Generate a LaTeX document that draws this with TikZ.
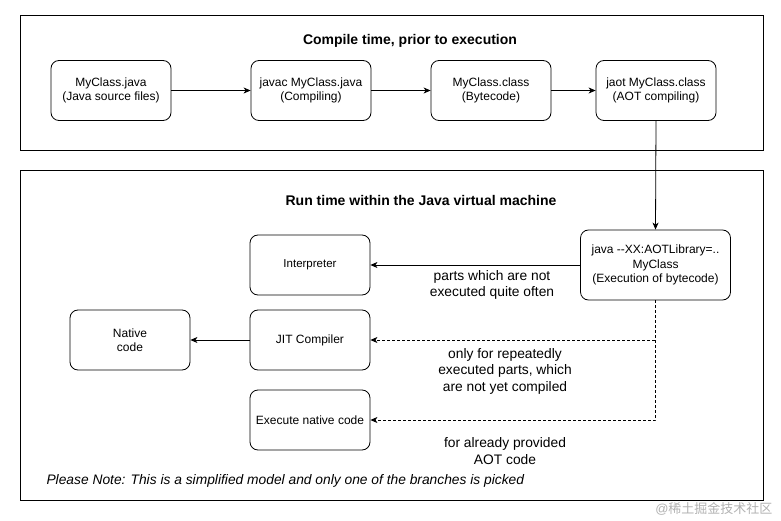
\documentclass[tikz,border=0pt]{standalone}
\usepackage{fontspec}
\setmainfont{Liberation Sans}
\newfontfamily\cjk{Noto Sans CJK SC}
\usetikzlibrary{arrows.meta}
\begin{document}
\begin{tikzpicture}[x=1pt,y=-1pt,
  box/.style={draw,line width=0.8pt,rounded corners=8pt,minimum width=120pt,minimum height=60pt,align=center,font=\fontsize{12}{14.5}\selectfont,inner sep=2pt},
  sbox/.style={box,font=\fontsize{12}{14.5}\selectfont},
  frame/.style={draw,line width=0.8pt},
  arr/.style={line width=0.8pt,-{Stealth[length=7pt,width=6pt,inset=2pt]}},
  darr/.style={arr,dashed,dash pattern=on 3pt off 2pt},
  lbl/.style={align=center,font=\fontsize{13.8}{16.5}\selectfont,inner sep=0pt}]
\useasboundingbox (0,0) rectangle (781,521);
\fill[white] (0,0) rectangle (781,521);
\draw[frame] (20,15) rectangle (763,150);
\draw[frame] (20,170) rectangle (763,500);
\node[font=\bfseries\fontsize{14}{16}\selectfont] (t1) at (410,41) {Compile time, prior to execution};
\node[font=\bfseries\fontsize{14}{16}\selectfont] (t2) at (421,200) {Run time within the Java virtual machine};
\node[box] (src) at (111,90.5) {MyClass.java\\(Java source files)};
\node[box] (javac) at (311,90.5) {javac MyClass.java\\(Compiling)};
\node[box] (cls) at (491,90.5) {MyClass.class\\(Bytecode)};
\node[box] (jaot) at (656,90.5) {jaot MyClass.class\\(AOT compiling)};
\node[box,minimum width=150pt,minimum height=70pt] (java) at (655.5,265) {java {-}{-}XX:AOTLibrary=..\\MyClass\\(Execution of bytecode)};
\node[sbox,font=\fontsize{11.5}{14}\selectfont] (interp) at (310,265) {Interpreter};
\node[sbox] (jit) at (310,340) {JIT Compiler};
\node[sbox] (exec) at (310,420) {Execute native code};
\node[sbox] (native) at (130,340) {Native\\code};
\draw[arr] (src) -- (javac);
\draw[arr] (javac) -- (cls);
\draw[arr] (cls) -- (jaot);
\draw[arr] (jaot.south) -- (java.north);
\draw[arr] (java) -- (interp);
\draw[darr] (java.south) -- (655.5,340) -- (jit.east);
\draw[darr] (655.5,340) -- (655.5,420) -- (exec.east);
\draw[arr] (jit) -- (native);
\node[lbl] (l1) at (492,285) {parts which are not\\executed quite often};
\node[lbl] (l2) at (505,371) {only for repeatedly\\executed parts, which\\are not yet compiled};
\node[lbl] (l3) at (505,451) {for already provided\\AOT code};
\node[font=\itshape\fontsize{13.8}{16}\selectfont,anchor=west] (note) at (43,481) {Please Note: This is a simplified model and only one of the branches is picked};
\node[font=\fontsize{13}{15}\selectfont,text=black!30,anchor=east] (wm) at (776,509) {@{\cjk 稀土掘金技术社区}};
\end{tikzpicture}
\end{document}
